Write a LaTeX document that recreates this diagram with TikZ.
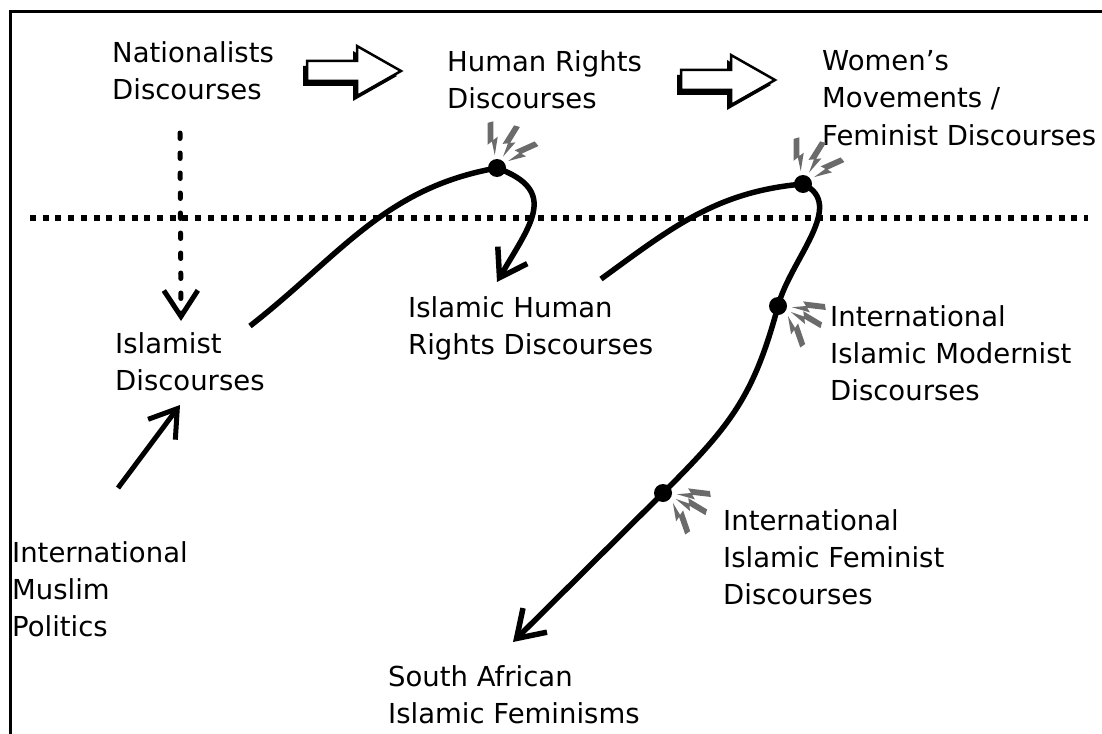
\documentclass[tikz,border=0pt]{standalone}
\usepackage{fontspec}
\setmainfont{DejaVu Sans}
\usetikzlibrary{arrows.meta}
\definecolor{sparkgray}{gray}{0.42}
\tikzset{
  txt/.style={anchor=base west,align=left,inner sep=0pt,font=\fontsize{27.5}{37}\selectfont},
  dot/.style={circle,fill,inner sep=0pt,minimum size=18pt},
  curve/.style={line width=5.5pt},
  spark/.pic={\fill[sparkgray] (0,0) -- (8,17) -- (3,15) -- (8,33) -- (2,33) -- (-4,12) -- (1,14) -- cycle;},
  fatarrow/.pic={
    \fill[shift={(-4,-5)}] (0,-10) -- (50,-10) -- (50,-25) -- (94,0) -- (50,25) -- (50,10) -- (0,10) -- cycle;
    \filldraw[fill=white,line width=2.5pt] (0,-10) -- (50,-10) -- (50,-25) -- (94,0) -- (50,25) -- (50,10) -- (0,10) -- cycle;}
}
\begin{document}
\begin{tikzpicture}[x=1pt,y=1pt,>={Straight Barb[length=26pt,width=34pt]}]
\useasboundingbox (0,0) rectangle (1102,-733);
\draw [line width=3pt] (10,-745) -- (10,-12) -- (1115,-12);
\node (nat) [txt] at (112,-100) {Nationalists\\Discourses};
\node (hr) [txt] at (447,-109) {Human Rights\\Discourses};
\node (wm) [txt] at (822,-145) {Women’s\\Movements /\\Feminist Discourses};
\node (ism) [txt] at (115,-390) {Islamist\\Discourses};
\node (ihr) [txt] at (408,-354) {Islamic Human\\Rights Discourses};
\node (iim) [txt] at (830,-400) {International\\Islamic Modernist\\Discourses};
\node (iif) [txt] at (723,-604) {International\\Islamic Feminist\\Discourses};
\node (imp) [txt] at (12,-636) {International\\Muslim\\Politics};
\node (saf) [txt] at (388,-723) {South African\\Islamic Feminisms};
\node (H) [dot] at (497,-168) {};
\node (A) [dot] at (803,-184) {};
\node (B) [dot] at (778,-306) {};
\node (C) [dot] at (663,-493) {};
\coordinate (hstart) at (250,-326);
\coordinate (htip) at (497,-282);
\coordinate (wstart) at (601,-279);
\coordinate (wtip) at (513,-642);
\coordinate (nfoot) at (180,-133);
\coordinate (nhead) at (181,-321);
\coordinate (mfoot) at (118,-488);
\coordinate (mhead) at (180,-405);
\pic at (307,-71) {fatarrow};
\pic at (681,-80) {fatarrow};
\draw [line width=6pt,dash pattern=on 6pt off 6.7pt] (30,-218) -- (1088,-218);
\draw [->,line width=5pt,line cap=round,dash pattern=on 5.5pt off 14.5pt] (nfoot) -- (nhead);
\draw [->,line width=5pt] (mfoot) -- (mhead);
\draw [->,curve] (hstart) to [out=38,in=190] (H.center) to [out=-20,in=60,looseness=1.5] (htip);
\draw [->,curve] (wstart) to [out=36,in=185] (A.center) to [out=-25,in=75] (B.center) to [out=-105,in=45,looseness=1.1] (C.center) -- (wtip);
\foreach \p/\d in {100/106,62/74,32/40} {
  \path (H.center) ++(\p:13) pic [rotate=\d-90] {spark};
  \path (A.center) ++(\p:13) pic [rotate=\d-90] {spark};
}
\foreach \p/\d in {-5/9,-25/-15,-45/-55} {
  \path (B.center) ++(\p:14) pic [rotate=\d-90] {spark};
  \path (C.center) ++(\p:14) pic [rotate=\d-90] {spark};
}
\end{tikzpicture}
\end{document}
